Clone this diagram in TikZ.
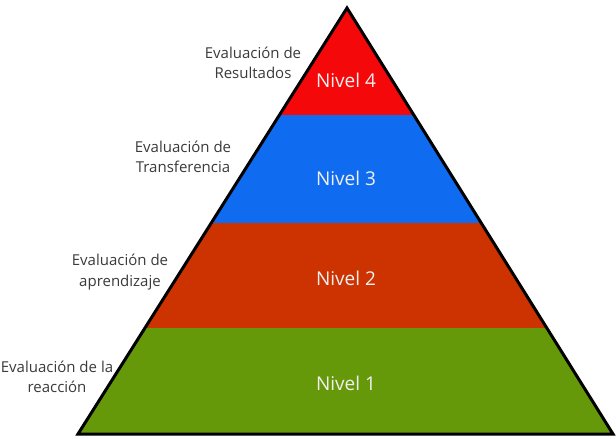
\documentclass[tikz,border=0pt]{standalone}
\usepackage{fontspec}
\setmainfont{Open Sans}
\definecolor{lvfour}{HTML}{F5080A}
\definecolor{lvthree}{HTML}{0F6BEF}
\definecolor{lvtwo}{HTML}{CC3300}
\definecolor{lvone}{HTML}{669909}
\definecolor{lbl}{HTML}{3A3A3A}
\begin{document}
\begin{tikzpicture}[x=1pt,y=-1pt,
  level/.style={text=white!94!black, inner sep=0pt, font=\fontsize{19}{22}\selectfont},
  side/.style={text=lbl, align=center, inner sep=0pt, font=\fontsize{15}{20.5}\selectfont}]
\useasboundingbox (0,0) rectangle (616,439);
\coordinate (apex) at (347,8);
\coordinate (bl) at (78,434);
\coordinate (br) at (613,434);
\begin{scope}
  \clip (apex) -- (br) -- (bl) -- cycle;
  \fill[lvfour] (60,0) rectangle (616,115);
  \fill[lvthree] (60,115) rectangle (616,223);
  \fill[lvtwo] (60,223) rectangle (616,328);
  \fill[lvone] (60,328) rectangle (616,439);
\end{scope}
\draw[line width=3pt, line join=miter, miter limit=20] (apex) -- (br) -- (bl) -- cycle;
\node[level] (n4) at (346,80) {Nivel 4};
\node[level] (n3) at (346,178) {Nivel 3};
\node[level] (n2) at (346,278) {Nivel 2};
\node[level] (n1) at (346,383) {Nivel 1};
\node[side] (e4) at (253,63) {Evaluación de\\Resultados};
\node[side] (e3) at (183,157) {Evaluación de\\Transferencia};
\node[side] (e2) at (120,272) {Evaluación de\\aprendizaje};
\node[side] (e1) at (57,377) {Evaluación de la\\reacción};
\end{tikzpicture}
\end{document}
